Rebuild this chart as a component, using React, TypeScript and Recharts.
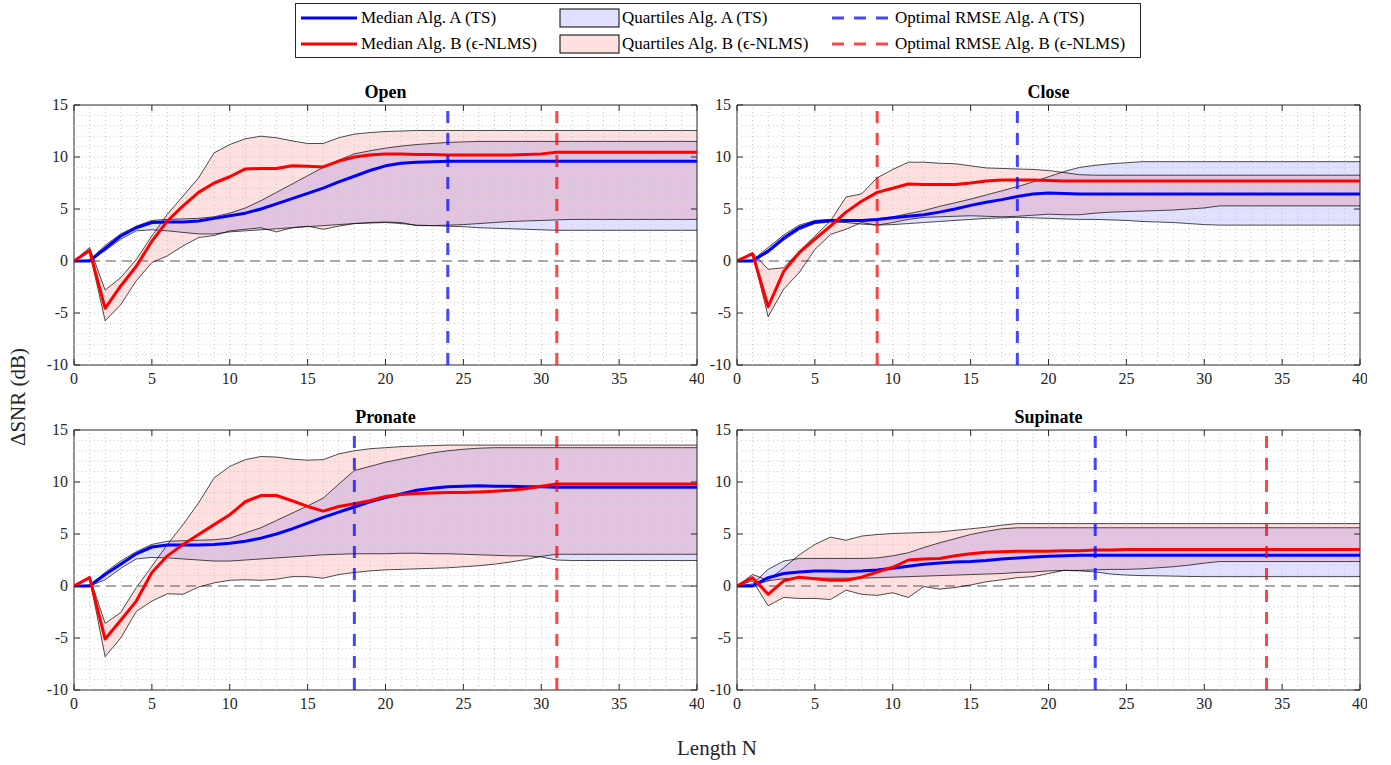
import React from 'react';
import { ComposedChart, Line, Area, XAxis, YAxis, ReferenceLine, ReferenceArea } from 'recharts';

// Filter length N (x axis)
const lengthN = [0, 1, 2, 3, 4, 5, 6, 7, 8, 9, 10, 11, 12, 13, 14, 15, 16, 17, 18, 19, 20, 21, 22, 23, 24, 25, 26, 27, 28, 29, 30, 31, 32, 33, 34, 35, 36, 37, 38, 39, 40];

const xTicks = [0, 5, 10, 15, 20, 25, 30, 35, 40];
const yTicks = [-10, -5, 0, 5, 10, 15];
const xGrid = [1, 2, 3, 4, 5, 6, 7, 8, 9, 10, 11, 12, 13, 14, 15, 16, 17, 18, 19, 20, 21, 22, 23, 24, 25, 26, 27, 28, 29, 30, 31, 32, 33, 34, 35, 36, 37, 38, 39];
const yGrid = [-9, -8, -7, -6, -5, -4, -3, -2, -1, 1, 2, 3, 4, 5, 6, 7, 8, 9, 10, 11, 12, 13, 14];

// ---- Open ----
const openMedA = [0, 0, 1.2, 2.4, 3.2, 3.7, 3.75, 3.75, 3.85, 4.1, 4.35, 4.6, 5.0, 5.5, 6.0, 6.5, 7.0, 7.6, 8.15, 8.7, 9.15, 9.4, 9.5, 9.55, 9.6, 9.6, 9.6, 9.6, 9.6, 9.6, 9.6, 9.6, 9.6, 9.6, 9.6, 9.6, 9.6, 9.6, 9.6, 9.6, 9.6];
const openMedB = [0, 1.0, -4.55, -2.4, -0.5, 1.9, 3.85, 5.3, 6.6, 7.5, 8.1, 8.85, 8.9, 8.9, 9.15, 9.1, 9.05, 9.6, 10.0, 10.2, 10.3, 10.3, 10.25, 10.25, 10.2, 10.2, 10.2, 10.2, 10.2, 10.25, 10.3, 10.45, 10.45, 10.45, 10.45, 10.45, 10.45, 10.45, 10.45, 10.45, 10.45];
const openQ1A = [0, 0, 1.0, 2.1, 2.9, 3.0, 2.9, 2.75, 2.6, 2.6, 2.8, 2.9, 3.0, 3.1, 3.2, 3.3, 3.4, 3.5, 3.6, 3.65, 3.7, 3.6, 3.45, 3.4, 3.35, 3.3, 3.2, 3.15, 3.1, 3.05, 3.0, 2.95, 2.95, 2.95, 2.95, 2.95, 2.95, 2.95, 2.95, 2.95, 2.95];
const openQ3A = [0, 0.1, 1.5, 2.6, 3.35, 3.9, 4.0, 4.05, 4.1, 4.25, 4.6, 5.1, 5.8, 6.6, 7.4, 8.2, 9.0, 9.7, 10.3, 10.6, 10.85, 11.05, 11.2, 11.3, 11.4, 11.45, 11.5, 11.5, 11.5, 11.5, 11.5, 11.5, 11.5, 11.5, 11.5, 11.5, 11.5, 11.5, 11.5, 11.5, 11.5];
const openQ1B = [0, 0.9, -5.75, -4.2, -1.9, -0.15, 0.5, 1.45, 2.25, 2.45, 2.9, 3.05, 3.2, 2.8, 3.2, 3.35, 3.05, 3.35, 3.6, 3.7, 3.75, 3.7, 3.4, 3.4, 3.45, 3.5, 3.6, 3.7, 3.8, 3.85, 3.9, 3.95, 4.0, 4.0, 4.0, 4.0, 4.0, 4.0, 4.0, 4.0, 4.0];
const openQ3B = [0, 1.3, -2.8, -1.6, 0.15, 2.4, 4.5, 6.25, 8.0, 10.4, 11.2, 11.75, 12.0, 11.85, 11.55, 11.3, 11.3, 11.85, 12.2, 12.35, 12.45, 12.5, 12.55, 12.55, 12.55, 12.55, 12.55, 12.55, 12.55, 12.55, 12.55, 12.55, 12.55, 12.55, 12.55, 12.55, 12.55, 12.55, 12.55, 12.55, 12.55];

// ---- Close ----
const closeMedA = [0, 0, 0.95, 2.2, 3.2, 3.75, 3.9, 3.9, 3.9, 4.0, 4.15, 4.3, 4.45, 4.7, 5.0, 5.35, 5.65, 5.9, 6.2, 6.45, 6.55, 6.5, 6.45, 6.45, 6.45, 6.45, 6.45, 6.45, 6.45, 6.45, 6.45, 6.45, 6.45, 6.45, 6.45, 6.45, 6.45, 6.45, 6.45, 6.45, 6.45];
const closeMedB = [0, 0.7, -4.4, -1.0, 0.8, 2.1, 3.35, 4.7, 5.75, 6.6, 7.0, 7.4, 7.35, 7.35, 7.35, 7.5, 7.7, 7.8, 7.8, 7.8, 7.75, 7.7, 7.7, 7.7, 7.7, 7.7, 7.7, 7.7, 7.7, 7.7, 7.7, 7.7, 7.7, 7.7, 7.7, 7.7, 7.7, 7.7, 7.7, 7.7, 7.7];
const closeQ1A = [0, 0, 0.8, 2.0, 3.0, 3.6, 3.75, 3.7, 3.55, 3.45, 3.5, 3.6, 3.7, 3.8, 3.9, 4.0, 4.1, 4.15, 4.2, 4.15, 4.1, 4.05, 4.0, 4.0, 3.95, 3.9, 3.8, 3.75, 3.7, 3.6, 3.5, 3.45, 3.45, 3.45, 3.45, 3.45, 3.45, 3.45, 3.45, 3.45, 3.45];
const closeQ3A = [0, 0.1, 1.3, 2.5, 3.45, 3.9, 4.0, 3.95, 3.95, 4.05, 4.25, 4.55, 4.85, 5.25, 5.6, 5.95, 6.35, 6.75, 7.15, 7.6, 8.1, 8.6, 9.0, 9.2, 9.35, 9.45, 9.55, 9.55, 9.55, 9.55, 9.55, 9.55, 9.55, 9.55, 9.55, 9.55, 9.55, 9.55, 9.55, 9.55, 9.55];
const closeQ1B = [0, 0.7, -5.35, -2.7, -1.1, 1.1, 2.55, 3.05, 3.7, 3.45, 3.7, 4.0, 4.2, 4.25, 4.3, 4.35, 4.3, 4.25, 4.3, 4.4, 4.5, 4.45, 4.45, 4.6, 4.7, 4.75, 4.8, 4.85, 4.9, 5.0, 5.1, 5.3, 5.3, 5.3, 5.3, 5.3, 5.3, 5.3, 5.3, 5.3, 5.3];
const closeQ3B = [0, 0.8, -0.8, -0.65, 0.95, 2.4, 3.85, 6.15, 6.45, 8.0, 8.8, 9.5, 9.5, 9.4, 9.35, 9.15, 8.95, 8.9, 8.85, 8.8, 8.7, 8.5, 8.3, 8.25, 8.25, 8.25, 8.25, 8.25, 8.25, 8.25, 8.25, 8.25, 8.25, 8.25, 8.25, 8.25, 8.25, 8.25, 8.25, 8.25, 8.25];

// ---- Pronate ----
const pronMedA = [0, 0, 1.1, 2.1, 3.1, 3.75, 3.95, 3.95, 3.95, 4.0, 4.1, 4.3, 4.6, 5.0, 5.5, 6.05, 6.6, 7.1, 7.6, 8.1, 8.5, 8.85, 9.2, 9.4, 9.55, 9.6, 9.65, 9.6, 9.6, 9.55, 9.55, 9.5, 9.5, 9.5, 9.5, 9.5, 9.5, 9.5, 9.5, 9.5, 9.5];
const pronMedB = [0, 0.8, -5.1, -3.3, -1.45, 1.3, 2.9, 4.0, 4.95, 5.9, 6.85, 8.1, 8.7, 8.7, 8.2, 7.65, 7.2, 7.65, 7.9, 8.2, 8.6, 8.8, 8.9, 8.95, 9.0, 9.0, 9.05, 9.1, 9.2, 9.35, 9.6, 9.8, 9.8, 9.8, 9.8, 9.8, 9.8, 9.8, 9.8, 9.8, 9.8];
const pronQ1A = [0, 0, 0.6, 1.7, 2.6, 2.75, 2.7, 2.6, 2.5, 2.4, 2.4, 2.5, 2.6, 2.7, 2.8, 2.9, 3.0, 3.05, 3.1, 3.1, 3.1, 3.15, 3.15, 3.1, 3.1, 3.05, 3.0, 2.95, 2.9, 2.9, 2.8, 2.5, 2.45, 2.45, 2.45, 2.45, 2.45, 2.45, 2.45, 2.45, 2.45];
const pronQ3A = [0, 0.1, 1.3, 2.4, 3.3, 4.0, 4.3, 4.35, 4.4, 4.45, 4.6, 5.1, 5.6, 6.3, 7.0, 7.7, 8.45, 9.8, 11.1, 11.5, 11.9, 12.2, 12.5, 12.8, 13.0, 13.15, 13.25, 13.3, 13.3, 13.3, 13.3, 13.3, 13.3, 13.3, 13.3, 13.3, 13.3, 13.3, 13.3, 13.3, 13.3];
const pronQ1B = [0, 0.8, -6.8, -5.0, -2.45, -1.45, -0.75, -0.8, -0.1, 0.3, 0.55, 0.6, 0.55, 0.65, 0.9, 0.9, 0.75, 1.1, 1.3, 1.45, 1.55, 1.6, 1.65, 1.7, 1.75, 1.85, 1.95, 2.1, 2.3, 2.55, 2.85, 3.05, 3.05, 3.05, 3.05, 3.05, 3.05, 3.05, 3.05, 3.05, 3.05];
const pronQ3B = [0, 0.9, -3.6, -2.55, -0.15, 1.9, 4.0, 5.9, 8.0, 10.4, 11.5, 12.15, 12.45, 12.4, 12.2, 12.1, 12.15, 12.7, 13.0, 13.2, 13.3, 13.4, 13.45, 13.5, 13.55, 13.55, 13.55, 13.55, 13.55, 13.55, 13.55, 13.55, 13.55, 13.55, 13.55, 13.55, 13.55, 13.55, 13.55, 13.55, 13.55];

// ---- Supinate ----
const supMedA = [0, 0, 0.8, 1.2, 1.35, 1.45, 1.45, 1.4, 1.45, 1.55, 1.7, 1.9, 2.1, 2.2, 2.3, 2.35, 2.45, 2.6, 2.7, 2.8, 2.85, 2.9, 2.95, 2.95, 2.95, 2.95, 2.95, 2.95, 2.95, 2.95, 2.95, 2.95, 2.95, 2.95, 2.95, 2.95, 2.95, 2.95, 2.95, 2.95, 2.95];
const supMedB = [0, 0.8, -0.8, 0.5, 0.85, 0.7, 0.55, 0.55, 0.85, 1.35, 1.8, 2.5, 2.6, 2.65, 2.9, 3.1, 3.25, 3.3, 3.35, 3.35, 3.35, 3.4, 3.4, 3.45, 3.45, 3.5, 3.5, 3.5, 3.5, 3.5, 3.5, 3.5, 3.5, 3.5, 3.5, 3.5, 3.5, 3.5, 3.5, 3.5, 3.5];
const supQ1A = [0, 0, 0.5, 0.7, 0.75, 0.75, 0.75, 0.75, 0.75, 0.8, 0.85, 0.9, 0.95, 1.0, 1.05, 1.1, 1.15, 1.2, 1.3, 1.35, 1.45, 1.5, 1.45, 1.35, 1.15, 1.05, 1.0, 0.98, 0.95, 0.92, 0.9, 0.9, 0.9, 0.9, 0.9, 0.9, 0.9, 0.9, 0.9, 0.9, 0.9];
const supQ3A = [0, 0.2, 1.6, 2.4, 2.65, 2.65, 2.65, 2.65, 2.65, 2.7, 2.9, 3.2, 3.7, 4.15, 4.55, 4.95, 5.25, 5.5, 5.6, 5.6, 5.6, 5.6, 5.6, 5.6, 5.6, 5.6, 5.6, 5.6, 5.6, 5.6, 5.6, 5.6, 5.6, 5.6, 5.6, 5.6, 5.6, 5.6, 5.6, 5.6, 5.6];
const supQ1B = [0, 0.5, -1.9, -1.1, -1.2, -1.2, -1.3, -0.4, -0.8, -0.9, -0.65, -1.1, -0.05, -0.3, -0.15, 0.1, 0.4, 0.6, 0.8, 0.9, 1.2, 1.5, 1.5, 1.55, 1.6, 1.6, 1.65, 1.75, 1.85, 2.0, 2.2, 2.35, 2.35, 2.35, 2.35, 2.35, 2.35, 2.35, 2.35, 2.35, 2.35];
const supQ3B = [0, 1.1, 0.55, 1.75, 3.0, 4.0, 4.7, 4.4, 4.8, 4.95, 5.05, 5.1, 5.15, 5.2, 5.35, 5.5, 5.65, 5.85, 6.0, 6.0, 6.0, 6.0, 6.0, 6.0, 6.0, 6.0, 6.0, 6.0, 6.0, 6.0, 6.0, 6.0, 6.0, 6.0, 6.0, 6.0, 6.0, 6.0, 6.0, 6.0, 6.0];

// Optimal filter lengths (RMSE criterion) per gesture
const optimalA = { open: 24, close: 18, pronate: 18, supinate: 23 };
const optimalB = { open: 31, close: 9, pronate: 31, supinate: 34 };

const FONT = "'Liberation Serif', serif";
const AXIS = '#262626';
const BLUE = '#0000ff';
const RED = '#ff0000';

// Chart geometry (per panel)
const CW = 700;
const CH = 310;
const M = { top: 20, right: 7, bottom: 0, left: 40 };
const YW = 30;
const XH = 30;
const PW = CW - M.left - YW - M.right;
const PH = CH - M.top - M.bottom - XH;
const TICK = 6;

function XTick(props: any) {
  const { x, y, payload } = props;
  return (
    <g>
      <line x1={x} y1={y} x2={x} y2={y - TICK} stroke={AXIS} strokeWidth={1} />
      <line x1={x} y1={y - PH} x2={x} y2={y - PH + TICK} stroke={AXIS} strokeWidth={1} />
      <text x={x} y={y + 19} textAnchor="middle" style={{ fontFamily: FONT }} fontSize={16} fill={AXIS}>
        {payload.value}
      </text>
    </g>
  );
}

function YTick(props: any) {
  const { x, y, payload } = props;
  return (
    <g>
      <line x1={x} y1={y} x2={x + TICK} y2={y} stroke={AXIS} strokeWidth={1} />
      <line x1={x + PW} y1={y} x2={x + PW - TICK} y2={y} stroke={AXIS} strokeWidth={1} />
      <text x={x - 6} y={y + 5} textAnchor="end" style={{ fontFamily: FONT }} fontSize={16} fill={AXIS}>
        {payload.value}
      </text>
    </g>
  );
}

type PanelProps = {
  title: string;
  medA: number[];
  medB: number[];
  q1A: number[];
  q3A: number[];
  q1B: number[];
  q3B: number[];
  optA: number;
  optB: number;
  left: number;
  top: number;
};

function Panel(p: PanelProps) {
  const rows = lengthN.map((n, i) => ({
    n,
    medA: p.medA[i],
    medB: p.medB[i],
    q1A: p.q1A[i],
    q3A: p.q3A[i],
    q1B: p.q1B[i],
    q3B: p.q3B[i],
    bandA: [p.q1A[i], p.q3A[i]],
    bandB: [p.q1B[i], p.q3B[i]],
  }));
  const edge = { stroke: '#000', strokeWidth: 0.7, dot: false, activeDot: false, isAnimationActive: false, type: 'linear' as const };
  return (
    <div style={{ position: 'absolute', left: p.left, top: p.top, width: CW, height: CH }}>
      <ComposedChart width={CW} height={CH} data={rows} margin={M}>
        <XAxis
          dataKey="n"
          type="number"
          domain={[0, 40]}
          ticks={xTicks}
          interval={0}
          height={XH}
          tickSize={0}
          tickMargin={0}
          tickLine={false}
          axisLine={false}
          allowDataOverflow
          tick={<XTick />}
        />
        <YAxis
          type="number"
          domain={[-10, 15]}
          ticks={yTicks}
          interval={0}
          width={YW}
          tickSize={0}
          tickMargin={0}
          tickLine={false}
          axisLine={false}
          allowDataOverflow
          tick={<YTick />}
        />
        {xGrid.map((v) => (
          <ReferenceLine key={'gx' + v} x={v} stroke="#c8c8c8" strokeWidth={1} strokeDasharray="1 3" />
        ))}
        {yGrid.map((v) => (
          <ReferenceLine key={'gy' + v} y={v} stroke="#c8c8c8" strokeWidth={1} strokeDasharray="1 3" />
        ))}
        <ReferenceLine y={0} stroke="#555" strokeWidth={1.1} strokeDasharray="10 6" />
        <Area type="linear" dataKey="bandA" fill={BLUE} fillOpacity={0.12} stroke="none" isAnimationActive={false} activeDot={false} />
        <Area type="linear" dataKey="bandB" fill={RED} fillOpacity={0.12} stroke="none" isAnimationActive={false} activeDot={false} />
        <Line dataKey="q1A" {...edge} />
        <Line dataKey="q3A" {...edge} />
        <Line dataKey="q1B" {...edge} />
        <Line dataKey="q3B" {...edge} />
        <Line type="linear" dataKey="medA" stroke={BLUE} strokeWidth={3} dot={false} activeDot={false} isAnimationActive={false} strokeLinejoin="round" />
        <Line type="linear" dataKey="medB" stroke={RED} strokeWidth={3} dot={false} activeDot={false} isAnimationActive={false} strokeLinejoin="round" />
        <ReferenceLine x={p.optA} stroke={BLUE} strokeOpacity={0.72} strokeWidth={3} strokeDasharray="12 10" />
        <ReferenceLine x={p.optB} stroke={RED} strokeOpacity={0.72} strokeWidth={3} strokeDasharray="12 10" />
        <ReferenceArea x1={0} x2={40} y1={-10} y2={15} fill="none" fillOpacity={0} stroke={AXIS} strokeWidth={1} />
      </ComposedChart>
      <div
        style={{
          position: 'absolute',
          left: M.left + YW + PW / 2 - 150,
          top: -2,
          width: 300,
          height: 18,
          lineHeight: '18px',
          textAlign: 'center',
          fontFamily: FONT,
          fontWeight: 'bold',
          fontSize: 18,
          color: '#000',
        }}
      >
        {p.title}
      </div>
    </div>
  );
}

const legendText: React.CSSProperties = {
  position: 'absolute',
  height: 20,
  lineHeight: '20px',
  fontFamily: FONT,
  fontSize: 17,
  color: '#000',
  whiteSpace: 'nowrap',
};

function LegendBox() {
  const rowY = [15, 41];
  return (
    <div
      style={{
        position: 'absolute',
        left: 295,
        top: 3,
        width: 846,
        height: 55,
        boxSizing: 'border-box',
        border: '1px solid #262626',
        background: '#fff',
      }}
    >
      <svg width={846} height={55} style={{ position: 'absolute', left: -1, top: -1 }}>
        <line x1={6} x2={62} y1={rowY[0]} y2={rowY[0]} stroke={BLUE} strokeWidth={3} />
        <line x1={6} x2={62} y1={rowY[1]} y2={rowY[1]} stroke={RED} strokeWidth={3} />
        <rect x={265} y={rowY[0] - 9} width={59} height={18} fill="#e0e0ff" stroke="#000" strokeWidth={1} />
        <rect x={265} y={rowY[1] - 9} width={59} height={18} fill="#ffe0e0" stroke="#000" strokeWidth={1} />
        <line x1={537} x2={597} y1={rowY[0]} y2={rowY[0]} stroke={BLUE} strokeOpacity={0.72} strokeWidth={3} strokeDasharray="12 10" />
        <line x1={537} x2={597} y1={rowY[1]} y2={rowY[1]} stroke={RED} strokeOpacity={0.72} strokeWidth={3} strokeDasharray="12 10" />
      </svg>
      <span style={{ ...legendText, left: 65, top: rowY[0] - 11 }}>Median Alg. A (TS)</span>
      <span style={{ ...legendText, left: 65, top: rowY[1] - 11 }}>Median Alg. B (ϵ-NLMS)</span>
      <span style={{ ...legendText, left: 326, top: rowY[0] - 11 }}>Quartiles Alg. A (TS)</span>
      <span style={{ ...legendText, left: 326, top: rowY[1] - 11 }}>Quartiles Alg. B (ϵ-NLMS)</span>
      <span style={{ ...legendText, left: 599, top: rowY[0] - 11 }}>Optimal RMSE Alg. A (TS)</span>
      <span style={{ ...legendText, left: 599, top: rowY[1] - 11 }}>Optimal RMSE Alg. B (ϵ-NLMS)</span>
    </div>
  );
}

export default function App() {
  return (
    <div style={{ position: 'absolute', left: 0, top: 0, width: 1391, height: 765, background: '#fff', fontFamily: FONT }}>
      <LegendBox />
      <Panel title="Open" medA={openMedA} medB={openMedB} q1A={openQ1A} q3A={openQ3A} q1B={openQ1B} q3B={openQ3B} optA={optimalA.open} optB={optimalB.open} left={4} top={85} />
      <Panel title="Close" medA={closeMedA} medB={closeMedB} q1A={closeQ1A} q3A={closeQ3A} q1B={closeQ1B} q3B={closeQ3B} optA={optimalA.close} optB={optimalB.close} left={667} top={85} />
      <Panel title="Pronate" medA={pronMedA} medB={pronMedB} q1A={pronQ1A} q3A={pronQ3A} q1B={pronQ1B} q3B={pronQ3B} optA={optimalA.pronate} optB={optimalB.pronate} left={4} top={410} />
      <Panel title="Supinate" medA={supMedA} medB={supMedB} q1A={supQ1A} q3A={supQ3A} q1B={supQ1B} q3B={supQ3B} optA={optimalA.supinate} optB={optimalB.supinate} left={667} top={410} />
      <div
        style={{
          position: 'absolute',
          left: 18 - 100,
          top: 397 - 12,
          width: 200,
          height: 24,
          lineHeight: '24px',
          textAlign: 'center',
          transform: 'rotate(-90deg)',
          fontFamily: FONT,
          fontSize: 21,
          color: AXIS,
          whiteSpace: 'nowrap',
        }}
      >
        ΔSNR (dB)
      </div>
      <div
        style={{
          position: 'absolute',
          left: 717 - 100,
          top: 748 - 12,
          width: 200,
          height: 24,
          lineHeight: '24px',
          textAlign: 'center',
          fontFamily: FONT,
          fontSize: 21,
          color: AXIS,
          whiteSpace: 'nowrap',
        }}
      >
        Length N
      </div>
    </div>
  );
}
